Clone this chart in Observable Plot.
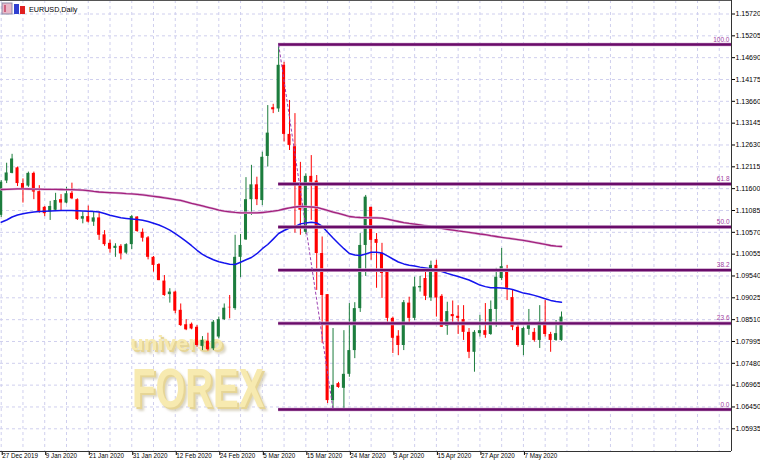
<!DOCTYPE html>
<html><head><meta charset="utf-8">
<script src="https://cdn.jsdelivr.net/npm/d3@7"></script>
<script src="https://cdn.jsdelivr.net/npm/@observablehq/plot@0.6"></script>
<style>
html,body{margin:0;padding:0;background:#fff;}
#chart{position:relative;width:760px;height:461px;overflow:hidden;}
</style></head><body><div id="chart"></div>
<script>
const dates = ["2019-12-27","2019-12-30","2019-12-31","2020-01-02","2020-01-03","2020-01-06","2020-01-07","2020-01-08","2020-01-09","2020-01-10",
"2020-01-13","2020-01-14","2020-01-15","2020-01-16","2020-01-17","2020-01-20","2020-01-21","2020-01-22","2020-01-23","2020-01-24",
"2020-01-27","2020-01-28","2020-01-29","2020-01-30","2020-01-31","2020-02-03","2020-02-04","2020-02-05","2020-02-06","2020-02-07",
"2020-02-10","2020-02-11","2020-02-12","2020-02-13","2020-02-14","2020-02-17","2020-02-18","2020-02-19","2020-02-20","2020-02-21",
"2020-02-24","2020-02-25","2020-02-26","2020-02-27","2020-02-28","2020-03-02","2020-03-03","2020-03-04","2020-03-05","2020-03-06",
"2020-03-08","2020-03-09","2020-03-10","2020-03-11","2020-03-12","2020-03-13","2020-03-15","2020-03-16","2020-03-17","2020-03-18",
"2020-03-19","2020-03-20","2020-03-22","2020-03-23","2020-03-24","2020-03-25","2020-03-26","2020-03-27","2020-03-30","2020-03-31",
"2020-04-01","2020-04-02","2020-04-03","2020-04-06","2020-04-07","2020-04-08","2020-04-09","2020-04-10","2020-04-13","2020-04-14",
"2020-04-15","2020-04-16","2020-04-17","2020-04-20","2020-04-21","2020-04-22","2020-04-23","2020-04-24","2020-04-27","2020-04-28",
"2020-04-29","2020-04-30","2020-05-01","2020-05-04","2020-05-05","2020-05-06","2020-05-07","2020-05-08","2020-05-11","2020-05-12",
"2020-05-13","2020-05-14","2020-05-15","2020-05-18"];

const open = [1.1097,1.1178,1.1196,1.1209,1.1172,1.1166,1.1196,1.1153,1.1116,1.1105,
1.1109,1.1134,1.1126,1.1149,1.1134,1.1088,1.1094,1.1081,1.1091,1.1051,
1.1031,1.1019,1.1024,1.1008,1.1028,1.1093,1.1057,1.1044,1.0998,1.0981,
1.0942,1.0910,1.0916,1.0873,1.0839,1.0840,1.0833,1.0788,1.0800,1.0782,
1.0810,1.0851,1.0880,1.0877,1.0998,1.1039,1.1134,1.1169,1.1132,1.1236,
1.1351,1.1348,1.1451,1.1288,1.1259,1.1167,1.1057,1.1189,1.1178,1.1007,
1.0910,1.0660,1.0700,1.0689,1.0722,1.0778,1.0877,1.1026,1.1116,1.1040,
1.1007,1.0963,1.0854,1.0812,1.0790,1.0890,1.0854,1.0926,1.0948,1.0902,
1.0979,1.0906,1.0835,1.0863,1.0859,1.0851,1.0821,1.0774,1.0818,1.0825,
1.0816,1.0875,1.0948,1.0967,1.0903,1.0833,1.0790,1.0828,1.0821,1.0802,
1.0845,1.0816,1.0802,1.0802];
const high = [1.1179,1.1220,1.1241,1.1211,1.1183,1.1199,1.1199,1.1167,1.1118,1.1130,
1.1149,1.1146,1.1163,1.1173,1.1136,1.1105,1.1119,1.1105,1.1105,1.1061,
1.1039,1.1030,1.1028,1.1030,1.1097,1.1094,1.1065,1.1047,1.1000,1.0983,
1.0955,1.0924,1.0918,1.0888,1.0851,1.0843,1.0837,1.0811,1.0819,1.0849,
1.0857,1.0888,1.0908,1.1050,1.1052,1.1186,1.1215,1.1187,1.1246,1.1356,
1.1359,1.1500,1.1458,1.1368,1.1337,1.1222,1.1195,1.1238,1.1191,1.1046,
1.0910,1.0830,1.0703,1.0825,1.0889,1.0891,1.1054,1.1144,1.1116,1.1054,
1.1031,1.0967,1.0857,1.0825,1.0896,1.0904,1.0951,1.0953,1.0963,1.0989,
1.0991,1.0910,1.0892,1.0895,1.0884,1.0884,1.0830,1.0825,1.0861,1.0889,
1.0895,1.0972,1.1019,1.0979,1.0920,1.0840,1.0833,1.0875,1.0830,1.0884,
1.0896,1.0821,1.0849,1.0869];
const low = [1.1092,1.1172,1.1195,1.1165,1.1126,1.1163,1.1134,1.1102,1.1094,1.1085,
1.1106,1.1106,1.1124,1.1134,1.1085,1.1077,1.1079,1.1071,1.1038,1.1024,
1.1008,1.0998,1.0992,1.1005,1.1016,1.1057,1.1034,1.0992,1.0963,1.0943,
1.0906,1.0890,1.0865,1.0835,1.0825,1.0827,1.0786,1.0778,1.0777,1.0778,
1.0806,1.0849,1.0853,1.0873,1.0950,1.1038,1.1097,1.1120,1.1120,1.1211,
1.1337,1.1340,1.1270,1.1250,1.1055,1.1050,1.1052,1.1085,1.0920,1.0795,
1.0653,1.0639,1.0689,1.0639,1.0715,1.0759,1.0868,1.0953,1.0991,1.0925,
1.0901,1.0845,1.0771,1.0766,1.0778,1.0842,1.0849,1.0916,1.0896,1.0894,
1.0857,1.0833,1.0814,1.0840,1.0816,1.0802,1.0759,1.0727,1.0810,1.0807,
1.0814,1.0833,1.0943,1.0896,1.0825,1.0786,1.0766,1.0814,1.0798,1.0783,
1.0810,1.0774,1.0800,1.0800];
const close = [1.1175,1.1197,1.1230,1.1172,1.1157,1.1196,1.1152,1.1105,1.1101,1.1118,
1.1132,1.1126,1.1148,1.1136,1.1087,1.1094,1.1081,1.1091,1.1050,1.1028,
1.1017,1.1024,1.1006,1.1028,1.1094,1.1059,1.1043,1.0998,1.0979,1.0943,
1.0908,1.0916,1.0871,1.0837,1.0827,1.0829,1.0790,1.0802,1.0780,1.0845,
1.0851,1.0878,1.0879,1.0998,1.1026,1.1134,1.1169,1.1134,1.1234,1.1291,
1.1346,1.1451,1.1288,1.1262,1.1167,1.1109,1.1189,1.1175,1.1007,1.0908,
1.0660,1.0696,1.0691,1.0722,1.0778,1.0877,1.1026,1.1140,1.1038,1.1031,
1.0960,1.0854,1.0807,1.0790,1.0891,1.0854,1.0928,1.0929,1.0906,1.0979,
1.0902,1.0833,1.0870,1.0858,1.0854,1.0821,1.0774,1.0821,1.0825,1.0814,
1.0875,1.0951,1.0976,1.0925,1.0833,1.0790,1.0830,1.0837,1.0802,1.0845,
1.0816,1.0802,1.0818,1.0857];

// moving averages as drawn (blue = fast, magenta = slow)
const maFast = [1.10809,1.10861,1.10931,1.10978,1.11007,1.11033,1.11049,1.11059,1.11066,1.11073,
1.11080,1.11085,1.11085,1.11082,1.11080,1.11075,1.11068,1.11059,1.11047,1.11014,
1.10971,1.10941,1.10912,1.10898,1.10886,1.10872,1.10853,1.10823,1.10785,1.10743,
1.10686,1.10620,1.10537,1.10452,1.10356,1.10254,1.10146,1.10051,1.09981,1.09924,
1.09877,1.09844,1.09816,1.09811,1.09865,1.09922,1.09976,1.10066,1.10184,1.10283,
1.10410,1.10542,1.10613,1.10672,1.10702,1.10769,1.10790,1.10809,1.10790,1.10714,
1.10573,1.10436,1.10306,1.10184,1.10070,1.10035,1.10023,1.10058,1.10101,1.10101,
1.10082,1.10016,1.09941,1.09870,1.09825,1.09794,1.09773,1.09749,1.09728,1.09709,
1.09679,1.09646,1.09601,1.09561,1.09528,1.09488,1.09445,1.09386,1.09325,1.09289,
1.09261,1.09261,1.09259,1.09247,1.09223,1.09179,1.09136,1.09113,1.09082,1.09044,
1.09004,1.08964,1.08940,1.08921];
const maSlow = [1.11580,1.11585,1.11589,1.11594,1.11594,1.11592,1.11589,1.11587,1.11585,1.11582,
1.11582,1.11580,1.11578,1.11575,1.11573,1.11566,1.11552,1.11535,1.11521,1.11512,
1.11505,1.11500,1.11493,1.11483,1.11476,1.11467,1.11455,1.11438,1.11420,1.11403,
1.11384,1.11363,1.11342,1.11321,1.11288,1.11254,1.11224,1.11191,1.11160,1.11127,
1.11094,1.11070,1.11054,1.11040,1.11030,1.11030,1.11030,1.11030,1.11037,1.11054,
1.11068,1.11089,1.11120,1.11148,1.11167,1.11179,1.11174,1.11167,1.11160,1.11125,
1.11085,1.11049,1.11016,1.10983,1.10943,1.10927,1.10919,1.10915,1.10912,1.10912,
1.10905,1.10882,1.10853,1.10825,1.10799,1.10780,1.10764,1.10745,1.10724,1.10702,
1.10684,1.10662,1.10641,1.10622,1.10603,1.10587,1.10568,1.10549,1.10530,1.10514,
1.10490,1.10471,1.10452,1.10434,1.10417,1.10398,1.10379,1.10358,1.10334,1.10311,
1.10287,1.10259,1.10245,1.10235];

const yTicks = [1.15720,1.15205,1.14690,1.14175,1.13660,1.13145,1.12630,1.12115,1.11600,1.11085,
1.10570,1.10055,1.09540,1.09025,1.08510,1.07995,1.07480,1.06965,1.06450,1.05935];
const xTickBars = [0,8,16,24,32,40,48,56,64,72,80,88,96];
const fibLevels = [0,23.6,38.2,50,61.8,100];
const fibHigh = 1.1500, fibLow = 1.0639;
const fibHighBar = 51, fibLowBar = 61;

const BULL = "#1c7d3d", BEAR = "#ff0000";
const xDomain = [-0.13, 134.25];
const yDomain = [1.053995, 1.160385];

const bars = dates.map((d, i) => ({i, open: open[i], high: high[i], low: low[i], close: close[i], up: close[i] >= open[i]}));
const fast = maFast.map((v, i) => ({i, v}));
const slow = maSlow.map((v, i) => ({i, v}));
const fib = fibLevels.map(l => ({level: l, value: fibLow + (fibHigh - fibLow) * l / 100, label: l.toFixed(1)}));
const gridBars = d3.range(0, 136, 4);
const fmt = d3.utcFormat("%-d %b %Y");
const grid = {stroke: "#cfcfee", strokeOpacity: 1, strokeDasharray: "3,3", strokeWidth: 1};

const chart = Plot.plot({
  width: 760, height: 461,
  marginLeft: 0, marginRight: 29, marginTop: 0, marginBottom: 10,
  x: {domain: xDomain, axis: null},
  y: {domain: yDomain, axis: null},
  style: {fontFamily: "'Liberation Sans', Arial, sans-serif", background: "#fff", color: "#000"},
  marks: [
    Plot.gridY(yTicks, grid),
    Plot.gridX(gridBars, grid),
    Plot.ruleX(bars.filter(d => d.up), {x: "i", y1: "low", y2: "high", stroke: BULL, strokeWidth: 1}),
    Plot.ruleX(bars.filter(d => !d.up), {x: "i", y1: "low", y2: "high", stroke: BEAR, strokeWidth: 1}),
    Plot.rect(bars.filter(d => d.up), {x1: d => d.i - 0.28, x2: d => d.i + 0.28, y1: "open", y2: "close", fill: BULL}),
    Plot.rect(bars.filter(d => !d.up), {x1: d => d.i - 0.28, x2: d => d.i + 0.28, y1: "open", y2: "close", fill: BEAR}),
    Plot.line(slow, {x: "i", y: "v", stroke: "#dcb4da", strokeWidth: 2.4}),
    Plot.line(slow, {x: "i", y: "v", stroke: "#a3217c", strokeWidth: 1.3}),
    Plot.line(fast, {x: "i", y: "v", stroke: "#1414ee", strokeWidth: 1.5}),
    Plot.ruleY(fib, {y: "value", x1: fibHighBar, x2: xDomain[1], stroke: "#c9a0c9", strokeWidth: 3.6}),
    Plot.ruleY(fib, {y: "value", x1: fibHighBar, x2: xDomain[1], stroke: "#6a0c6a", strokeWidth: 2.4}),
    Plot.link([{x1: fibHighBar, y1: fibHigh, x2: fibLowBar, y2: fibLow}], {x1: "x1", y1: "y1", x2: "x2", y2: "y2", stroke: "#9b3fb0", strokeWidth: 1, strokeDasharray: "3,2"}),
    Plot.text(fib, {x: xDomain[1], y: "value", text: "label", textAnchor: "end", dx: -2, dy: -5, fill: "#a040a0", fontSize: 6.5}),
    Plot.axisY(yTicks, {anchor: "right", tickSize: 3, tickPadding: 1, tickFormat: d => d.toFixed(5), fontSize: 7, stroke: "#000"}),
    Plot.axisX(xTickBars, {anchor: "bottom", tickSize: 4, tickPadding: -2, tickFormat: i => fmt(new Date(dates[i])), textAnchor: "start", dx: 1, fontSize: 6.3, stroke: "#000"}),
    Plot.ruleX([xDomain[1]], {stroke: "#333", strokeWidth: 1}),
    Plot.ruleY([yDomain[0]], {stroke: "#333", strokeWidth: 1}),
    Plot.ruleY([yDomain[1]], {stroke: "#555", strokeWidth: 1})
  ]
});

document.getElementById("chart").appendChild(chart);

const svg = d3.select(chart);
const font = "'Liberation Sans', Arial, sans-serif";

// watermark logo beneath the candles, with a 3D-like shadow filter
const defs = svg.insert("defs", ":first-child");
const f = defs.append("filter").attr("id", "wmShadow").attr("x", "-10%").attr("y", "-10%").attr("width", "130%").attr("height", "130%");
f.append("feDropShadow").attr("dx", 2).attr("dy", 2).attr("stdDeviation", 0.3).attr("flood-color", "#e6d596").attr("flood-opacity", 1).attr("result", "s1");
f.append("feDropShadow").attr("in", "s1").attr("dx", 2).attr("dy", 2).attr("stdDeviation", 0.8).attr("flood-color", "#d3cdb8").attr("flood-opacity", 0.8);

const wm = d3.create("svg:g").attr("font-family", font).attr("font-weight", "bold")
  .attr("text-anchor", "start").attr("filter", "url(#wmShadow)").attr("fill", "#f7eab0");
wm.append("text").attr("x", 130).attr("y", 350).attr("font-size", 20)
  .attr("textLength", 93).attr("lengthAdjust", "spacingAndGlyphs").text("universo");
wm.append("text").attr("x", 132).attr("y", 407).attr("font-size", 56)
  .attr("textLength", 132).attr("lengthAdjust", "spacingAndGlyphs").text("FOREX");
const firstRule = svg.select('g[aria-label="rule"]').node();
chart.insertBefore(wm.node(), firstRule);

// title with MT-style icons
const t = svg.append("g").attr("text-anchor", "start");
t.append("rect").attr("x", 2).attr("y", 3).attr("width", 10).attr("height", 11).attr("fill", "#e8b8c8").attr("stroke", "#8a8aa8");
t.append("rect").attr("x", 4).attr("y", 5).attr("width", 2).attr("height", 7).attr("fill", "#d06080");
t.append("rect").attr("x", 14).attr("y", 4).attr("width", 5).attr("height", 10).attr("fill", "#3040d0");
t.append("rect").attr("x", 20).attr("y", 6).attr("width", 5).attr("height", 8).attr("fill", "#e02020");
t.append("text").attr("x", 29).attr("y", 12).attr("font-size", 7.2).attr("font-family", font).attr("fill", "#000").text("EURUSD,Daily");
</script></body></html>
